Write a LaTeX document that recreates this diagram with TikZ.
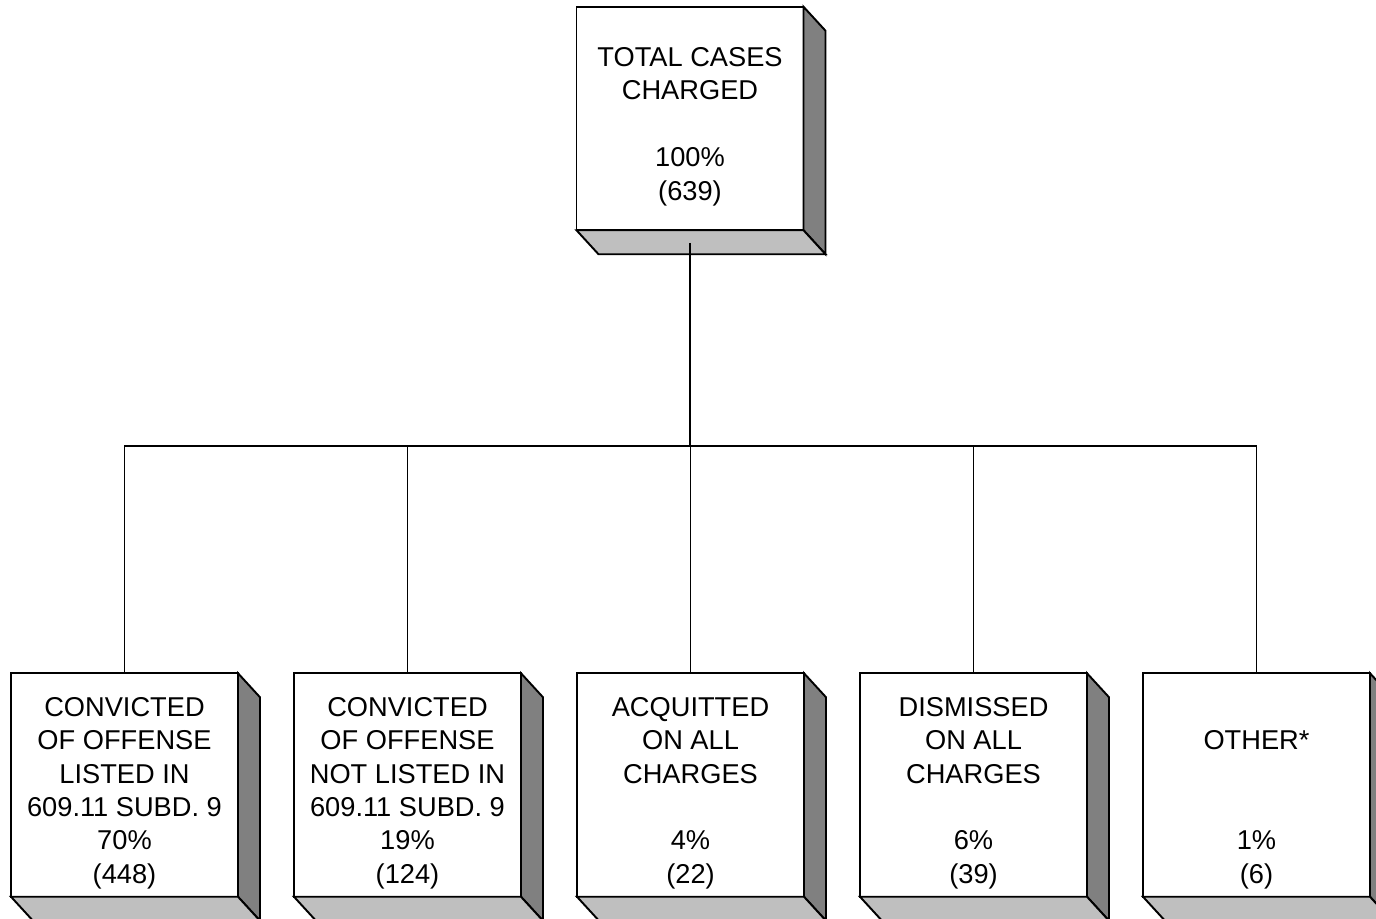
\documentclass[tikz,border=0pt]{standalone}
\usepackage{fontspec}
\setmainfont{Liberation Sans}
\usetikzlibrary{positioning}
\newcommand{\firstline}{\rule{0pt}{20pt}}

\begin{document}
\begin{tikzpicture}[box/.style={rectangle,draw,line width=1.1pt,fill=white,minimum width=4.54cm,minimum height=4.47cm,inner sep=0pt,outer sep=0pt,align=center,font=\fontsize{15.5}{19}\selectfont},
		side/.style={draw,line width=1.1pt,fill=black!50},
		base/.style={draw,line width=1.1pt,fill=black!25},
		wire/.style={line width=0.8pt},
		node distance=1.12cm]
	\useasboundingbox (0,0) rectangle (27.52,-18.36);
	\node[box] (total) at (13.8,-2.37) {\firstline TOTAL CASES\\CHARGED\\\strut\\100\%\\(639)};
	\node[box] (conv) at (2.49,-15.7) {\firstline CONVICTED\\OF OFFENSE\\LISTED IN\\609.11 SUBD. 9\\70\%\\(448)};
	\node[box,right=of conv] (notl) {\firstline CONVICTED\\OF OFFENSE\\NOT LISTED IN\\609.11 SUBD. 9\\19\%\\(124)};
	\node[box,right=of notl] (acq) {\firstline ACQUITTED\\ON ALL\\CHARGES\\\strut\\4\%\\(22)};
	\node[box,right=of acq] (dism) {\firstline DISMISSED\\ON ALL\\CHARGES\\\strut\\6\%\\(39)};
	\node[box,right=of dism] (other) {\firstline\\OTHER*\\\strut\\\strut\\1\%\\(6)};
	% 3d sides of the boxes
	\foreach \n in {total,conv,notl,acq,dism,other}{
		\filldraw[side] (\n.north east) -- ++(0.44,-0.48) -- ([shift={(0.44,-0.48)}]\n.south east) -- (\n.south east) -- cycle;
		\filldraw[base] (\n.south west) -- (\n.south east) -- ([shift={(0.44,-0.48)}]\n.south east) -- ([shift={(0.44,-0.48)}]\n.south west) -- cycle;
	}
	% connectors
	\coordinate (bus) at (13.8,-8.92);
	\draw[wire] ([yshift=-0.25cm]total.south) -- (bus);
	\foreach \n in {conv,notl,acq,dism,other}
		\draw[wire] (bus) -| (\n.north);
\end{tikzpicture}
\end{document}
